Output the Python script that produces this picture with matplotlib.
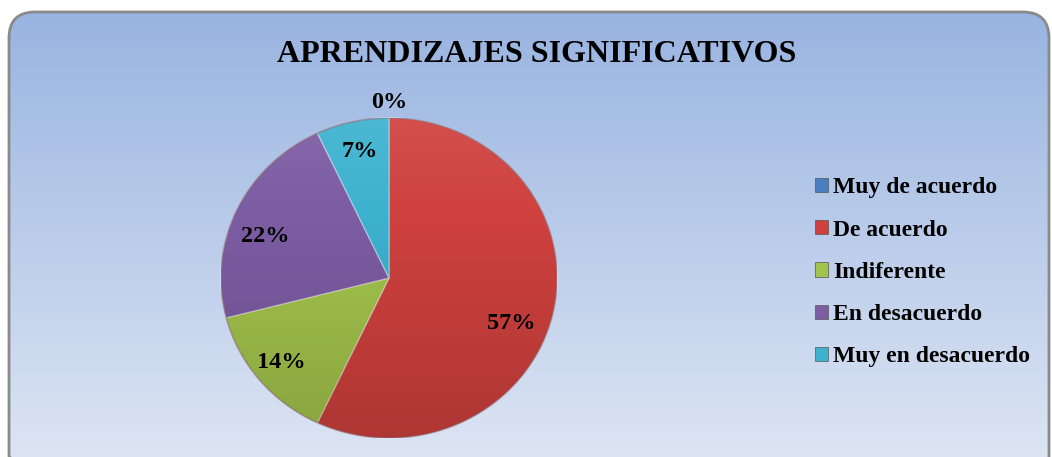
import numpy as np
import matplotlib
matplotlib.use("Agg")
import matplotlib.pyplot as plt
from matplotlib.patches import FancyBboxPatch, Patch, Ellipse

title = "APRENDIZAJES SIGNIFICATIVOS"
categories = ["Muy de acuerdo", "De acuerdo", "Indiferente", "En desacuerdo", "Muy en desacuerdo"]
values = [0, 57, 14, 22, 7]
colors = ["#4A7EC0", "#CF413E", "#A3C44C", "#7C5CA3", "#3DB2CF"]

# label placement tweaks (radial distance, angle offset in degrees)
label_r = [1.10, 0.78, 0.83, 0.78, 0.81]
label_dang = [0, -9, 0, 6, 0]

W, H = 1052, 457
fig = plt.figure(figsize=(W / 100, H / 100), dpi=100)
fig.patch.set_facecolor("white")

# background panel with gradient and rounded border (pixel coordinates)
bg = fig.add_axes([0, 0, 1, 1])
bg.set_xlim(0, W)
bg.set_ylim(H, 0)
bg.axis("off")
grad = np.linspace(0, 1, 256).reshape(-1, 1)
top = np.array([0x99, 0xB4, 0xE1]) / 255
bot = np.array([0xDE, 0xE6, 0xF4]) / 255
img = top + (bot - top) * grad[..., None]
img = img.reshape(256, 1, 3)
box = FancyBboxPatch((9, 12), 1040, 470, boxstyle="round,pad=0,rounding_size=26",
                     facecolor="none", edgecolor="#8A8A8A", linewidth=2.0, zorder=3)
bg.add_patch(box)
im = bg.imshow(img, extent=(9, 1049, 470, 12), aspect="auto", zorder=1)
im.set_clip_path(box)

serif = ["Liberation Serif", "DejaVu Serif"]
fig.text(537 / W, 1 - 55 / H, title, ha="center", va="center",
         fontsize=23, fontweight="bold", family=serif)

# pie axes
cx, cy, rx, ry = 389, 278, 168, 160
ax = fig.add_axes([(cx - rx) / W, 1 - (cy + ry) / H, 2 * rx / W, 2 * ry / H])
wedges, texts, autotexts = ax.pie(
    values, colors=colors, startangle=90, counterclock=False,
    autopct="%.0f%%", pctdistance=0.8,
    wedgeprops=dict(edgecolor=(1, 1, 1, 0.35), linewidth=1.0),
    textprops=dict(fontsize=17.5, fontweight="bold", family=serif, color="black", zorder=5))
ax.set_aspect("auto")
ax.set_xlim(-1, 1)
ax.set_ylim(-1, 1)
ax.axis("off")

# soft vertical shading over the pie
shade = np.zeros((256, 1, 4))
g = np.linspace(0, 1, 256)
shade[:, 0, :3] = np.where(g[:, None] < 0.3, 1.0, 0.0)
shade[:, 0, 3] = np.where(g < 0.3, 0.08 * (0.3 - g) / 0.3, 0.16 * (g - 0.3) / 0.7)
sh = ax.imshow(shade, extent=(-1, 1, -1, 1), aspect="auto", zorder=3, origin="upper")
clip = Ellipse((0, 0), 2, 2, transform=ax.transData)
sh.set_clip_path(clip)
rim = Ellipse((0, 0), 2, 2, facecolor="none", edgecolor=(0.35, 0.1, 0.1, 0.35),
              linewidth=1.2, zorder=4)
ax.add_patch(rim)

for w, t, r, da in zip(wedges, autotexts, label_r, label_dang):
    ang = np.deg2rad((w.theta1 + w.theta2) / 2 + da)
    t.set_position((r * np.cos(ang), r * np.sin(ang)))

handles = [Patch(facecolor=c, edgecolor="#555555", linewidth=0.5) for c in colors]
leg = fig.legend(handles, categories, loc="upper left",
                 bbox_to_anchor=(806 / W, 1 - 168 / H), frameon=False,
                 prop=dict(family=serif, weight="bold", size=17),
                 handlelength=0.55, handleheight=0.55, handletextpad=0.21,
                 labelspacing=0.9, borderaxespad=0)

fig.savefig("out.png", dpi=100)
